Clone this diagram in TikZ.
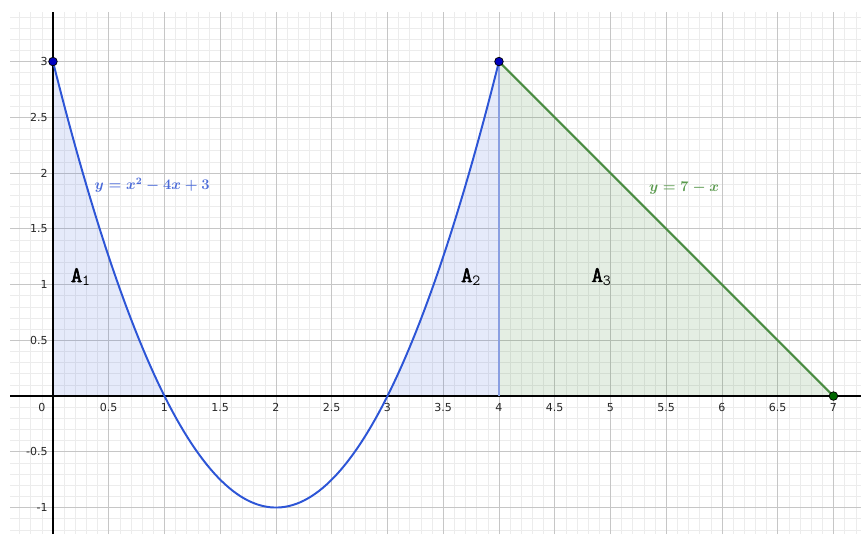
\documentclass[tikz,border=0pt]{standalone}
\usepackage{amsmath,amssymb}
\usepackage{xcolor}
\usepackage{fontspec}
\newfontfamily\tickfont{DejaVu Sans}
\newfontfamily\areafont{Latin Modern Mono}[AutoFakeBold=2.5]
\usetikzlibrary{arrows.meta,positioning,calc}

\definecolor{curveblue}{HTML}{2D55D6}
\definecolor{edgeblue}{HTML}{8A9FE2}
\definecolor{linegreen}{HTML}{4A8C42}
\definecolor{textblue}{HTML}{4A6AD8}
\definecolor{textgreen}{HTML}{5A9A4E}
\definecolor{majorgrid}{HTML}{C6C6C6}
\definecolor{minorgrid}{HTML}{ECECEC}

\begin{document}
\begin{tikzpicture}[
  x=3.2cm, y=3.2cm,
  ticklab/.style={font=\tickfont\fontsize{9}{10}\selectfont, text=black!85, inner sep=1pt},
  arealab/.style={font=\fontsize{18}{20}\selectfont, inner sep=0pt},
  funclab/.style={font=\fontsize{11.5}{13}\selectfont\boldmath, inner sep=0pt},
  dot/.style={circle, draw=black, line width=0.6pt, minimum size=7pt, inner sep=0pt}
]
\useasboundingbox (-0.475,-1.238) rectangle (7.247,3.552);

% grid
\draw[minorgrid, line width=0.5pt] (-0.385,-1.238) grid[step=0.1] (7.247,3.44);
\draw[majorgrid, line width=0.6pt] (-0.385,-1.238) grid[step=0.5] (7.247,3.44);

% areas
\fill[curveblue, fill opacity=0.12] (0,0) -- plot[domain=0:1, samples=40] (\x,{\x*\x-4*\x+3}) -- cycle;
\fill[curveblue, fill opacity=0.12] (3,0) -- plot[domain=3:4, samples=40] (\x,{\x*\x-4*\x+3}) -- (4,0) -- cycle;
\fill[linegreen, fill opacity=0.15] (4,0) -- (4,3) -- (7,0) -- cycle;

% axes
\draw[black, line width=1.4pt] (-0.385,0) -- (7.247,0);
\draw[black, line width=1.4pt] (0,-1.238) -- (0,3.44);

% tick labels
\node[ticklab] (x0) at (-0.1,-0.1) {0};
\foreach \t [count=\i] in {0.5,1,1.5,2,2.5,3,3.5,4,4.5,5,5.5,6,6.5,7}
  \node[ticklab] (xt\i) at (\t,-0.1) {\t};
\foreach \t [count=\i] in {3,2.5,2,1.5,1,0.5,-0.5,-1}
  \node[ticklab, anchor=east] (yt\i) at (-0.035,\t) {\t};

% curve and line
\coordinate (p) at (0,3);
\coordinate (q) at (4,3);
\coordinate (r) at (7,0);
\coordinate (q0) at (4,0);
\draw[edgeblue, line width=1.1pt] (q0) -- (q);
\draw[curveblue, line width=1.6pt] plot[domain=0:4, samples=120] (\x,{\x*\x-4*\x+3});
\draw[linegreen, line width=1.8pt] (q) -- (r);

\node[dot, fill=blue!75!black] (pd) at (p) {};
\node[dot, fill=blue!75!black] (qd) at (q) {};
\node[dot, fill=green!40!black] (rd) at (r) {};

% labels
\node[funclab, text=textblue] (f) at (0.89,1.89) {$y=x^2-4x+3$};
\node[funclab, text=textgreen] (g) at (5.66,1.86) {$y=7-x$};
\node[arealab] (a1) at (0.25,1.07) {{\areafont\bfseries A}$_{\texttt{1}}$};
\node[arealab] (a2) at (3.75,1.07) {{\areafont\bfseries A}$_{\texttt{2}}$};
\node[arealab] (a3) at (4.92,1.07) {{\areafont\bfseries A}$_{\texttt{3}}$};
\end{tikzpicture}
\end{document}
